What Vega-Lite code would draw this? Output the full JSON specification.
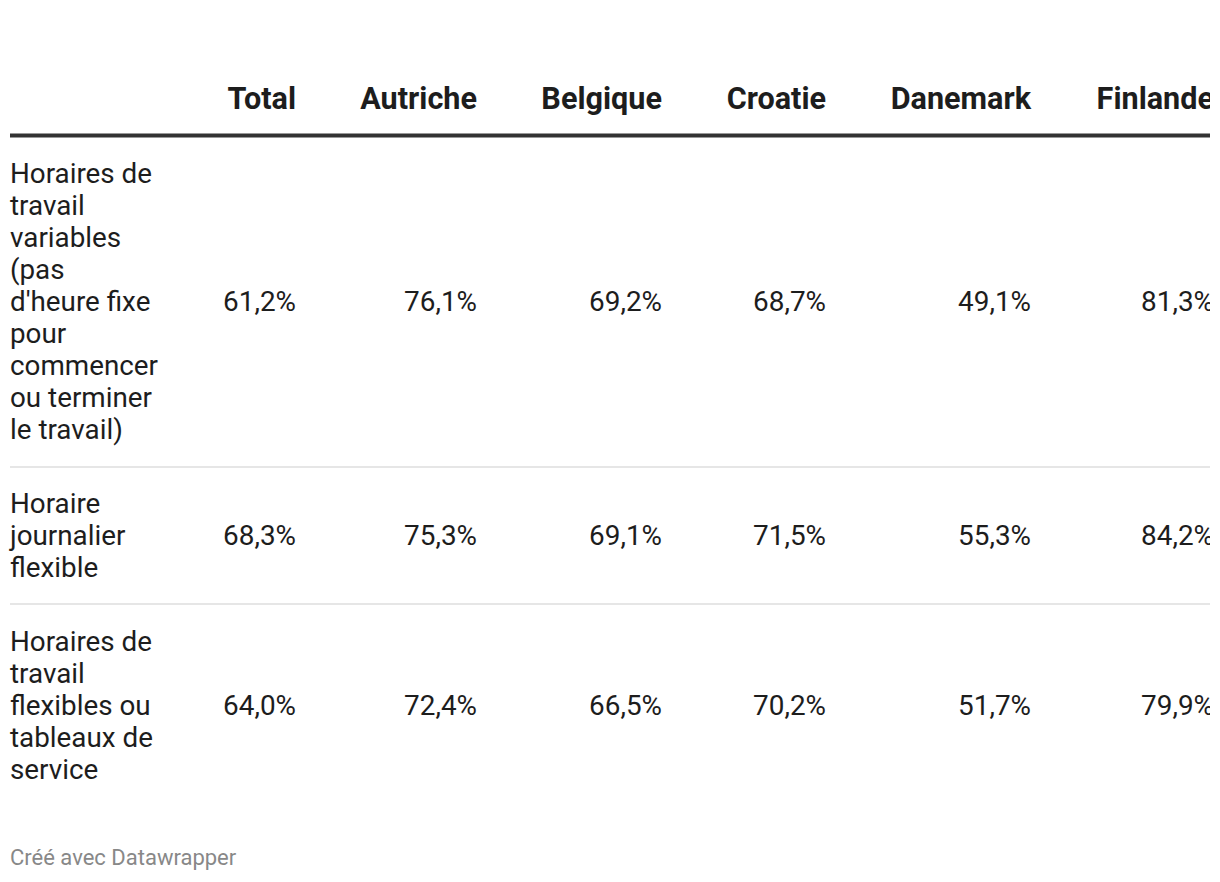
{
  "$schema": "https://vega.github.io/schema/vega-lite/v6.json",
  "width": 1200,
  "height": 882,
  "autosize": {"type": "none"},
  "padding": {"left": 10, "right": 10, "top": 0, "bottom": 0},
  "background": "white",
  "config": {"view": {"stroke": null}, "font": "Roboto", "text": {"font": "Roboto"}},
  "datasets": {
    "cols": [
      {"col": "Total", "ci": 1},
      {"col": "Autriche", "ci": 2},
      {"col": "Belgique", "ci": 3},
      {"col": "Croatie", "ci": 4},
      {"col": "Danemark", "ci": 5},
      {"col": "Finlande", "ci": 6}
    ],
    "rows": [
      {"ri": 2, "label": "Horaires de\ntravail\nvariables\n(pas\nd'heure fixe\npour\ncommencer\nou terminer\nle travail)"},
      {"ri": 4, "label": "Horaire\njournalier\nflexible"},
      {"ri": 6, "label": "Horaires de\ntravail\nflexibles ou\ntableaux de\nservice"}
    ],
    "cells": [
      {"ri": 2, "ci": 1, "v": 61.2}, {"ri": 2, "ci": 2, "v": 76.1}, {"ri": 2, "ci": 3, "v": 69.2},
      {"ri": 2, "ci": 4, "v": 68.7}, {"ri": 2, "ci": 5, "v": 49.1}, {"ri": 2, "ci": 6, "v": 81.3},
      {"ri": 4, "ci": 1, "v": 68.3}, {"ri": 4, "ci": 2, "v": 75.3}, {"ri": 4, "ci": 3, "v": 69.1},
      {"ri": 4, "ci": 4, "v": 71.5}, {"ri": 4, "ci": 5, "v": 55.3}, {"ri": 4, "ci": 6, "v": 84.2},
      {"ri": 6, "ci": 1, "v": 64.0}, {"ri": 6, "ci": 2, "v": 72.4}, {"ri": 6, "ci": 3, "v": 66.5},
      {"ri": 6, "ci": 4, "v": 70.2}, {"ri": 6, "ci": 5, "v": 51.7}, {"ri": 6, "ci": 6, "v": 79.9}
    ],
    "lines": [
      {"ri": 1, "kind": "thick"},
      {"ri": 3, "kind": "thin"},
      {"ri": 5, "kind": "thin"}
    ],
    "foot": [{"ri": 7, "ci": 0, "text": "Créé avec Datawrapper"}]
  },
  "layer": [
    {
      "data": {"name": "lines"},
      "transform": [{"filter": "datum.kind === 'thin'"}],
      "mark": {"type": "rule", "color": "#e6e6e6", "strokeWidth": 2},
      "encoding": {
        "y": {"field": "ri", "type": "quantitative", "axis": null,
              "scale": {"domain": [0, 1, 2, 3, 4, 5, 6, 7], "range": [100, 135.5, 303, 467, 537, 604, 707, 858], "zero": false, "nice": false}}
      }
    },
    {
      "data": {"name": "lines"},
      "transform": [{"filter": "datum.kind === 'thick'"}],
      "mark": {"type": "rule", "color": "#333333", "strokeWidth": 4},
      "encoding": {
        "y": {"field": "ri", "type": "quantitative", "axis": null}
      }
    },
    {
      "data": {"name": "cols"},
      "mark": {"type": "text", "align": "right", "baseline": "middle", "fontSize": 30.6, "fontWeight": "bold", "color": "#1d1d1d", "clip": true},
      "encoding": {
        "x": {"field": "ci", "type": "quantitative", "axis": null,
              "scale": {"domain": [0, 1, 2, 3, 4, 5, 6], "range": [0, 286, 467, 652, 816, 1021, 1204], "zero": false, "nice": false}},
        "y": {"datum": 0, "type": "quantitative"},
        "text": {"field": "col"}
      }
    },
    {
      "data": {"name": "rows"},
      "transform": [{"filter": "datum.ri === 2"}],
      "mark": {"type": "text", "align": "left", "baseline": "middle", "fontSize": 27.8, "lineHeight": 32, "lineBreak": "\n", "color": "#1d1d1d", "dy": -128},
      "encoding": {
        "x": {"datum": 0, "type": "quantitative"},
        "y": {"field": "ri", "type": "quantitative"},
        "text": {"field": "label"}
      }
    },
    {
      "data": {"name": "rows"},
      "transform": [{"filter": "datum.ri === 4"}],
      "mark": {"type": "text", "align": "left", "baseline": "middle", "fontSize": 27.8, "lineHeight": 32, "lineBreak": "\n", "color": "#1d1d1d", "dy": -32},
      "encoding": {
        "x": {"datum": 0, "type": "quantitative"},
        "y": {"field": "ri", "type": "quantitative"},
        "text": {"field": "label"}
      }
    },
    {
      "data": {"name": "rows"},
      "transform": [{"filter": "datum.ri === 6"}],
      "mark": {"type": "text", "align": "left", "baseline": "middle", "fontSize": 27.8, "lineHeight": 32, "lineBreak": "\n", "color": "#1d1d1d", "dy": -64},
      "encoding": {
        "x": {"datum": 0, "type": "quantitative"},
        "y": {"field": "ri", "type": "quantitative"},
        "text": {"field": "label"}
      }
    },
    {
      "data": {"name": "cells"},
      "transform": [{"calculate": "replace(format(datum.v, '.1f'), '.', ',') + '%'", "as": "txt"}],
      "mark": {"type": "text", "align": "right", "baseline": "middle", "fontSize": 27.9, "color": "#1d1d1d", "clip": true},
      "encoding": {
        "x": {"field": "ci", "type": "quantitative"},
        "y": {"field": "ri", "type": "quantitative"},
        "text": {"field": "txt"}
      }
    },
    {
      "data": {"name": "foot"},
      "mark": {"type": "text", "align": "left", "baseline": "middle", "fontSize": 22, "color": "#888888"},
      "encoding": {
        "x": {"field": "ci", "type": "quantitative"},
        "y": {"field": "ri", "type": "quantitative"},
        "text": {"field": "text"}
      }
    }
  ]
}
